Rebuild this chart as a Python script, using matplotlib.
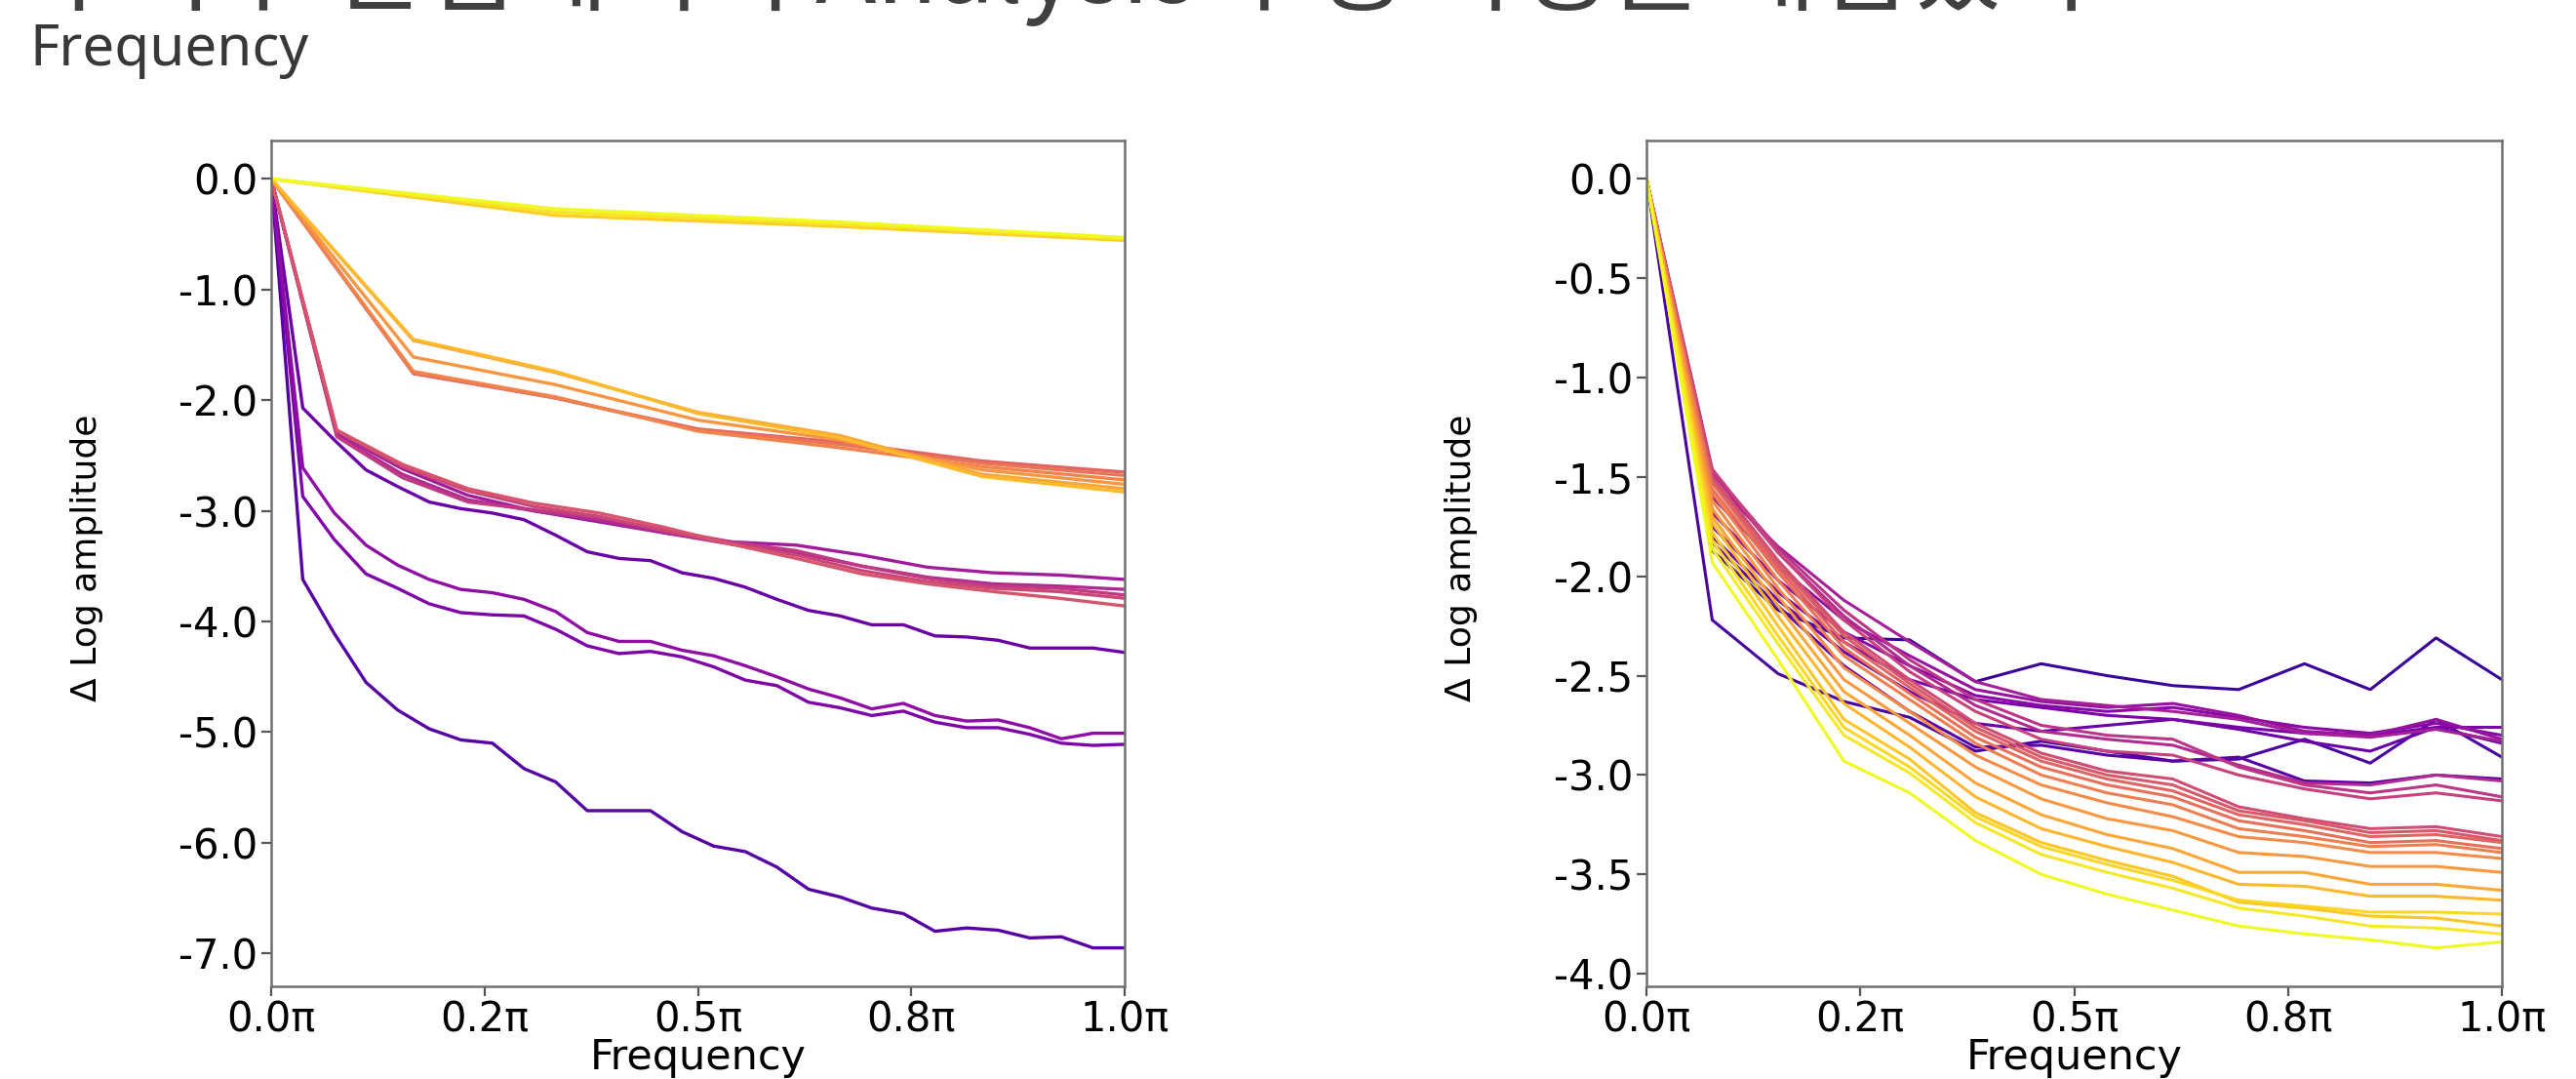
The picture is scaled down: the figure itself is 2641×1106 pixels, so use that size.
import numpy as np
import matplotlib
matplotlib.use("Agg")
import matplotlib.pyplot as plt
from matplotlib import cm
from matplotlib import font_manager
from matplotlib.ticker import FormatStrFormatter

# ==========================================================
# DATA  (relative log amplitude)
# ==========================================================

# left panel (CNN) - curves ordered from early (dark) to late (yellow) layers
left_56 = [
    [0, -3.62, -4.11, -4.55, -4.80, -4.97, -5.07, -5.10, -5.33, -5.45, -5.71, -5.71, -5.71, -5.90,
     -6.03, -6.08, -6.22, -6.42, -6.49, -6.59, -6.64, -6.80, -6.77, -6.79, -6.86, -6.85, -6.95, -6.95],
    [0, -2.07, -2.36, -2.63, -2.78, -2.92, -2.98, -3.02, -3.08, -3.22, -3.37, -3.43, -3.45, -3.56,
     -3.61, -3.69, -3.80, -3.90, -3.95, -4.03, -4.03, -4.13, -4.14, -4.17, -4.24, -4.24, -4.24, -4.28],
    [0, -2.87, -3.26, -3.57, -3.70, -3.84, -3.92, -3.94, -3.95, -4.07, -4.22, -4.29, -4.27, -4.32,
     -4.41, -4.53, -4.58, -4.73, -4.78, -4.85, -4.81, -4.91, -4.96, -4.96, -5.02, -5.10, -5.12, -5.11],
    [0, -2.61, -3.02, -3.31, -3.49, -3.62, -3.71, -3.74, -3.80, -3.91, -4.10, -4.18, -4.18, -4.26,
     -4.31, -4.40, -4.50, -4.61, -4.69, -4.79, -4.74, -4.85, -4.90, -4.89, -4.96, -5.06, -5.01, -5.01],
]
left_28 = [
    [0, -2.30, -2.62, -2.86, -3.00, -3.10, -3.20, -3.28, -3.31, -3.40, -3.51, -3.56, -3.58, -3.62],
    [0, -2.32, -2.67, -2.90, -3.00, -3.08, -3.20, -3.30, -3.38, -3.50, -3.60, -3.66, -3.68, -3.71],
    [0, -2.33, -2.70, -2.92, -2.99, -3.06, -3.17, -3.28, -3.36, -3.50, -3.61, -3.68, -3.70, -3.76],
    [0, -2.28, -2.60, -2.82, -2.96, -3.05, -3.18, -3.30, -3.40, -3.54, -3.64, -3.70, -3.73, -3.79],
    [0, -2.27, -2.58, -2.80, -2.93, -3.02, -3.15, -3.30, -3.43, -3.57, -3.66, -3.73, -3.79, -3.86],
]
left_14 = [
    [0, -1.76, -1.98, -2.26, -2.38, -2.55, -2.65],
    [0, -1.75, -1.98, -2.27, -2.40, -2.57, -2.68],
    [0, -1.74, -1.97, -2.28, -2.43, -2.60, -2.72],
    [0, -1.61, -1.86, -2.18, -2.36, -2.63, -2.76],
    [0, -1.46, -1.75, -2.11, -2.32, -2.67, -2.80],
    [0, -1.45, -1.74, -2.12, -2.34, -2.69, -2.83],
]
left_7 = [
    [0, -0.33, -0.43, -0.555],
    [0, -0.30, -0.41, -0.54],
    [0, -0.27, -0.39, -0.53],
]

# right panel (ViT) - 14 frequency bins per curve, early (dark) to late (yellow)
right_curves = [
    [0, -1.87, -2.17, -2.31, -2.32, -2.53, -2.44, -2.50, -2.55, -2.57, -2.44, -2.57, -2.31, -2.52],
    [0, -2.22, -2.49, -2.63, -2.71, -2.88, -2.83, -2.88, -2.93, -2.92, -2.82, -2.94, -2.72, -2.91],
    [0, -1.83, -2.15, -2.45, -2.68, -2.86, -2.85, -2.90, -2.93, -2.91, -3.03, -3.04, -3.00, -3.02],
    [0, -1.80, -2.12, -2.38, -2.58, -2.74, -2.78, -2.75, -2.72, -2.77, -2.83, -2.88, -2.76, -2.84],
    [0, -1.75, -2.08, -2.33, -2.52, -2.62, -2.66, -2.70, -2.72, -2.76, -2.79, -2.80, -2.76, -2.76],
    [0, -1.68, -2.02, -2.28, -2.45, -2.60, -2.65, -2.68, -2.66, -2.71, -2.76, -2.79, -2.74, -2.80],
    [0, -1.60, -1.95, -2.22, -2.40, -2.57, -2.63, -2.66, -2.64, -2.70, -2.78, -2.80, -2.72, -2.82],
    [0, -1.52, -1.85, -2.12, -2.33, -2.53, -2.62, -2.65, -2.68, -2.72, -2.79, -2.81, -2.77, -2.83],
    [0, -1.48, -1.88, -2.20, -2.45, -2.65, -2.78, -2.82, -2.85, -2.95, -3.04, -3.05, -3.00, -3.03],
    [0, -1.47, -1.86, -2.17, -2.42, -2.62, -2.75, -2.80, -2.82, -2.96, -3.05, -3.09, -3.05, -3.11],
    [0, -1.46, -1.88, -2.22, -2.48, -2.68, -2.82, -2.88, -2.90, -3.00, -3.07, -3.12, -3.09, -3.13],
    [0, -1.50, -1.92, -2.28, -2.52, -2.74, -2.89, -2.98, -3.02, -3.16, -3.22, -3.27, -3.26, -3.31],
    [0, -1.52, -1.94, -2.30, -2.54, -2.76, -2.91, -3.00, -3.05, -3.18, -3.23, -3.29, -3.28, -3.33],
    [0, -1.53, -1.96, -2.33, -2.56, -2.78, -2.93, -3.02, -3.08, -3.20, -3.25, -3.31, -3.30, -3.34],
    [0, -1.56, -1.98, -2.36, -2.59, -2.81, -2.96, -3.05, -3.11, -3.23, -3.28, -3.34, -3.33, -3.37],
    [0, -1.58, -2.02, -2.40, -2.62, -2.84, -3.00, -3.09, -3.15, -3.27, -3.31, -3.36, -3.35, -3.39],
    [0, -1.62, -2.06, -2.46, -2.68, -2.90, -3.05, -3.14, -3.21, -3.31, -3.34, -3.39, -3.39, -3.42],
    [0, -1.66, -2.10, -2.52, -2.74, -2.96, -3.12, -3.22, -3.28, -3.39, -3.41, -3.46, -3.46, -3.49],
    [0, -1.70, -2.15, -2.58, -2.80, -3.04, -3.20, -3.30, -3.37, -3.49, -3.49, -3.55, -3.55, -3.58],
    [0, -1.73, -2.20, -2.64, -2.86, -3.11, -3.27, -3.36, -3.44, -3.55, -3.56, -3.61, -3.61, -3.63],
    [0, -1.78, -2.25, -2.72, -2.92, -3.19, -3.34, -3.43, -3.51, -3.64, -3.67, -3.71, -3.72, -3.76],
    [0, -1.82, -2.30, -2.76, -2.96, -3.21, -3.36, -3.45, -3.53, -3.63, -3.66, -3.69, -3.69, -3.70],
    [0, -1.86, -2.34, -2.80, -2.99, -3.24, -3.40, -3.49, -3.57, -3.67, -3.71, -3.76, -3.77, -3.80],
    [0, -1.93, -2.42, -2.93, -3.09, -3.33, -3.50, -3.60, -3.68, -3.76, -3.80, -3.83, -3.87, -3.84],
]

freq_ticks = [0.0, 0.25, 0.5, 0.75, 1.0]
left_yticks = [0.0, -1.0, -2.0, -3.0, -4.0, -5.0, -6.0, -7.0]
right_yticks = [0.0, -0.5, -1.0, -1.5, -2.0, -2.5, -3.0, -3.5, -4.0]

slide_title = "주파수 관점에서의 Analysis 수행 과정을 대입했다"
slide_sub = "Frequency"

# ==========================================================
# FONTS
# ==========================================================

installed = {f.name for f in font_manager.fontManager.ttflist}
if "Liberation Sans Narrow" in installed:
    ylabel_font, ylabel_size = "Liberation Sans Narrow", 33
else:
    ylabel_font, ylabel_size = "DejaVu Sans", 26

# ==========================================================
# FIGURE
# ==========================================================

W, H = 2641, 1106
fig = plt.figure(figsize=(W / 100, H / 100), dpi=100)

ax1 = fig.add_axes([278 / W, 1 - 1011 / H, 875 / W, 867 / H])
ax2 = fig.add_axes([1688 / W, 1 - 1011 / H, 877 / W, 867 / H])

left_all = left_56 + left_28 + left_14 + left_7
n_left = len(left_all)
for i, curve in enumerate(left_all):
    freq = np.linspace(0, 1, len(curve))
    ax1.plot(freq, curve, color=cm.plasma(0.15 + 0.85 * i / (n_left - 1)), lw=2.4)

n_right = len(right_curves)
for i, curve in enumerate(right_curves):
    freq = np.linspace(0, 1, len(curve))
    ax2.plot(freq, curve, color=cm.plasma(0.08 + 0.92 * i / (n_right - 1)), lw=2.2)

# ==========================================================
# AXES STYLE
# ==========================================================

for ax, yt in [(ax1, left_yticks), (ax2, right_yticks)]:
    ax.set_xlim(0, 1)
    ax.set_xticks(freq_ticks)
    ax.set_xticklabels([f"{v:.1f}π" for v in freq_ticks])
    ax.set_yticks(yt)
    ax.yaxis.set_major_formatter(FormatStrFormatter("%.1f"))
    ax.tick_params(labelsize=30, length=7, width=1.6, color="#555555", pad=3)
    for s in ax.spines.values():
        s.set_color("#707070")
        s.set_linewidth(1.8)
    ax.set_xlabel("Frequency", fontsize=31)
    ax.xaxis.set_label_coords(0.5, -0.06)
    ax.set_ylabel("Δ Log amplitude", fontsize=ylabel_size,
                  family=[ylabel_font, "DejaVu Sans"])
    ax.yaxis.set_label_coords(-0.197, 0.506)

# ==========================================================
# SLIDE TEXT
# ==========================================================

fig.text(34 / W, 1 - 3 / H, slide_title, fontsize=74, color="#404040",
         family=["Noto Sans CJK KR", "DejaVu Sans"], va="baseline", ha="left")
fig.text(30 / W, 1 - 67 / H, slide_sub, fontsize=42, color="#383838",
         family=["Noto Sans", "DejaVu Sans"], va="baseline", ha="left")

plt.savefig("out.png", dpi=100)
plt.close()
